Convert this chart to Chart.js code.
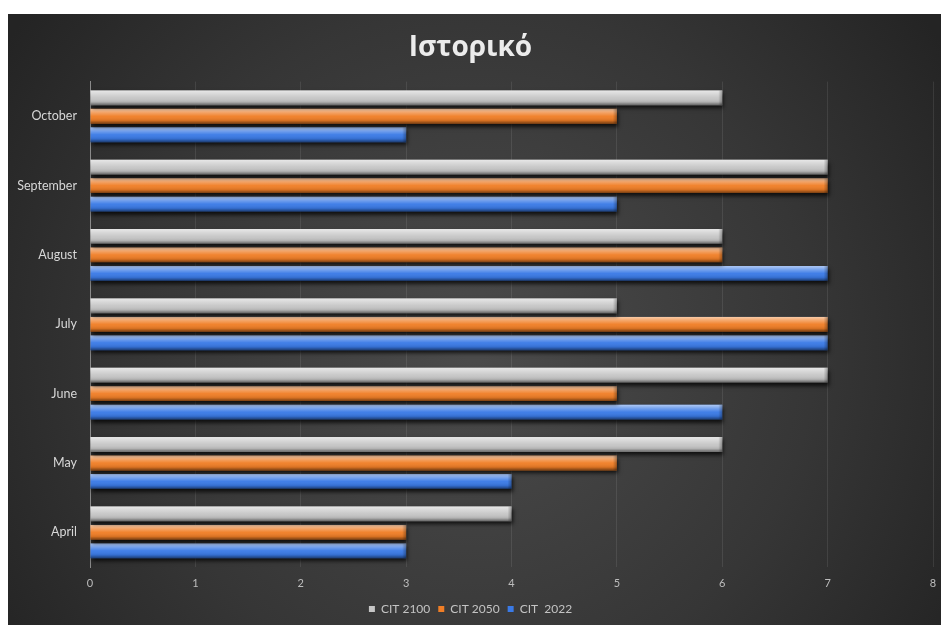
<!DOCTYPE html>
<html>
<head>
<meta charset="utf-8">
<script src="https://cdn.jsdelivr.net/npm/chart.js@4/dist/chart.umd.min.js"></script>
<style>
  html, body { margin: 0; padding: 0; background: #ffffff; }
  #panel { position: absolute; left: 8px; top: 14px; width: 933px; height: 611px; }
</style>
</head>
<body>
<div id="panel"><canvas id="chart"></canvas></div>
<script>
// Months, listed top to bottom as they appear on the vertical axis
const months = ['October', 'September', 'August', 'July', 'June', 'May', 'April'];

// Series values per month (same order as months)
const cit2100 = [6, 7, 6, 5, 7, 6, 4];
const cit2050 = [5, 7, 6, 7, 5, 5, 3];
const cit2022 = [3, 5, 7, 7, 6, 4, 3];

const seriesNames = ['CIT 2100', 'CIT 2050', 'CIT  2022'];
const seriesColors = ['#c6c6c6', '#f07e26', '#3a7ae6'];

// Dark panel with a soft light spot towards the middle
const backdrop = {
  id: 'backdrop',
  beforeDraw(chart) {
    const { ctx, width, height } = chart;
    const g = ctx.createRadialGradient(width * 0.5, height * 0.55, 10, width * 0.5, height * 0.55, width * 0.6);
    g.addColorStop(0, '#4b4b4b');
    g.addColorStop(0.6, '#363636');
    g.addColorStop(1, '#242424');
    ctx.save();
    ctx.fillStyle = g;
    ctx.fillRect(0, 0, width, height);
    ctx.restore();
  }
};

// Drop shadow under the bars plus a rounded gloss over each bar
const gloss = {
  id: 'gloss',
  beforeDatasetDraw(chart) {
    const ctx = chart.ctx;
    ctx.save();
    ctx.shadowColor = 'rgba(0,0,0,0.75)';
    ctx.shadowBlur = 4;
    ctx.shadowOffsetY = 3;
    ctx.shadowOffsetX = 1;
  },
  afterDatasetDraw(chart, args) {
    const ctx = chart.ctx;
    ctx.restore();
    const meta = args.meta;
    ctx.save();
    meta.data.forEach(el => {
      const p = el.getProps(['x', 'y', 'base', 'height'], true);
      const top = p.y - p.height / 2;
      const bottom = p.y + p.height / 2;
      const left = Math.min(p.base, p.x);
      const right = Math.max(p.base, p.x);
      const g = ctx.createLinearGradient(0, top, 0, bottom);
      g.addColorStop(0, 'rgba(255,255,255,0.6)');
      g.addColorStop(0.25, 'rgba(255,255,255,0.3)');
      g.addColorStop(0.5, 'rgba(255,255,255,0.04)');
      g.addColorStop(0.78, 'rgba(0,0,0,0.1)');
      g.addColorStop(1, 'rgba(0,0,0,0.5)');
      ctx.fillStyle = g;
      ctx.fillRect(left, top, right - left, bottom - top);
      // darker rim at the bar end
      const e = ctx.createLinearGradient(right - 4, 0, right, 0);
      e.addColorStop(0, 'rgba(0,0,0,0)');
      e.addColorStop(1, 'rgba(0,0,0,0.3)');
      ctx.fillStyle = e;
      ctx.fillRect(right - 4, top, 4, bottom - top);
    });
    ctx.restore();
  }
};

const datasets = [cit2100, cit2050, cit2022].map((values, i) => ({
  label: seriesNames[i],
  data: values,
  backgroundColor: seriesColors[i],
  borderWidth: 0,
  categoryPercentage: 0.8,
  barPercentage: 0.8
}));

new Chart(document.getElementById('chart'), {
  type: 'bar',
  data: { labels: months, datasets },
  plugins: [backdrop, gloss],
  options: {
    indexAxis: 'y',
    responsive: true,
    maintainAspectRatio: false,
    animation: false,
    layout: { padding: { left: 0, right: 8, top: 0, bottom: 0 } },
    plugins: {
      title: {
        display: true,
        text: 'Ιστορικό',
        color: '#ececec',
        font: { family: 'Open Sans', size: 28, weight: '700' },
        padding: { top: 17, bottom: 17 }
      },
      legend: {
        display: true,
        position: 'bottom',
        labels: {
          color: '#c4c4c4',
          font: { family: 'Lato', size: 12 },
          boxWidth: 6,
          boxHeight: 6,
          padding: 8
        }
      },
      tooltip: { enabled: false }
    },
    scales: {
      x: {
        min: 0,
        max: 8,
        ticks: { stepSize: 1, color: '#bdbdbd', font: { family: 'Lato', size: 11 }, padding: 2 },
        grid: { color: 'rgba(255,255,255,0.09)', drawTicks: true, tickLength: 8, tickColor: 'rgba(0,0,0,0)' },
        border: { display: false },
        afterFit(scale) { scale.height = 28; }
      },
      y: {
        ticks: { color: '#d8d8d8', font: { family: 'Lato', size: 12.5 }, padding: 13 },
        grid: { display: false, drawTicks: false },
        border: { display: true, color: '#8a8a8a', width: 1 },
        afterFit(scale) { scale.width = 82; }
      }
    }
  }
});
</script>
</body>
</html>
